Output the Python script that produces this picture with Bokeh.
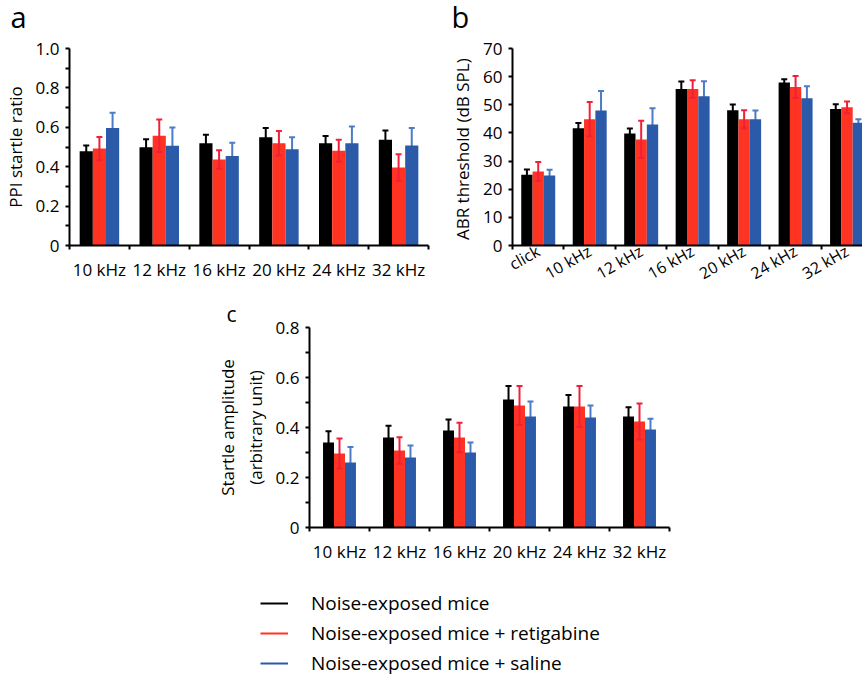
from bokeh.plotting import figure
from bokeh.models import (ColumnDataSource, Range1d, FixedTicker, Whisker, TeeHead,
                          Legend, LegendItem, Spacer, Label)
from bokeh.layouts import row, column
from bokeh.embed import file_html
from bokeh.resources import INLINE

FONT = "Open Sans"
COLORS = ["#000000", "#ff3322", "#2b5aa8"]
ERR_COLORS = ["#000000", "#f0203a", "#4d7bc6"]
ERR_LEVELS = ["underlay", "annotation", "underlay"]

series_names = ["Noise-exposed mice",
                "Noise-exposed mice + retigabine",
                "Noise-exposed mice + saline"]

# ---- panel a : PPI startle ratio ----
a_categories = ["10 kHz", "12 kHz", "16 kHz", "20 kHz", "24 kHz", "32 kHz"]
a_noise = [0.479, 0.499, 0.519, 0.549, 0.519, 0.537]
a_noise_err = [0.028, 0.040, 0.043, 0.047, 0.037, 0.047]
a_retig = [0.492, 0.557, 0.436, 0.519, 0.481, 0.396]
a_retig_err = [0.059, 0.082, 0.047, 0.062, 0.056, 0.067]
a_saline = [0.597, 0.506, 0.454, 0.488, 0.519, 0.507]
a_saline_err = [0.077, 0.093, 0.067, 0.061, 0.085, 0.089]
a_yticks = [0, 0.2, 0.4, 0.6, 0.8, 1.0]
a_yminor = [0.1, 0.3, 0.5, 0.7, 0.9]
a_ylabels = ["0", "0.2", "0.4", "0.6", "0.8", "1.0"]

# ---- panel b : ABR threshold ----
b_categories = ["click", "10 kHz", "12 kHz", "16 kHz", "20 kHz", "24 kHz", "32 kHz"]
b_noise = [25.1, 41.7, 39.8, 55.6, 48.1, 57.9, 48.5]
b_noise_err = [1.9, 1.8, 1.8, 2.7, 2.0, 1.2, 1.7]
b_retig = [26.3, 44.9, 37.7, 55.6, 44.9, 56.3, 49.1]
b_retig_err = [3.4, 6.1, 6.6, 3.1, 3.2, 3.9, 2.1]
b_saline = [24.9, 48.0, 43.0, 53.0, 44.9, 52.3, 43.6]
b_saline_err = [2.0, 6.9, 5.8, 5.4, 3.1, 4.3, 1.3]
b_yticks = [0, 10, 20, 30, 40, 50, 60, 70]
b_ylabels = ["0", "10", "20", "30", "40", "50", "60", "70"]

# ---- panel c : startle amplitude ----
c_categories = ["10 kHz", "12 kHz", "16 kHz", "20 kHz", "24 kHz", "32 kHz"]
c_noise = [0.340, 0.360, 0.388, 0.512, 0.484, 0.444]
c_noise_err = [0.045, 0.047, 0.044, 0.054, 0.046, 0.037]
c_retig = [0.296, 0.308, 0.360, 0.488, 0.484, 0.424]
c_retig_err = [0.060, 0.053, 0.059, 0.078, 0.082, 0.072]
c_saline = [0.260, 0.280, 0.300, 0.444, 0.440, 0.392]
c_saline_err = [0.062, 0.048, 0.040, 0.060, 0.048, 0.043]
c_yticks = [0, 0.2, 0.4, 0.6, 0.8]
c_yminor = [0.1, 0.3, 0.5, 0.7]
c_ylabels = ["0", "0.2", "0.4", "0.6", "0.8"]


def make_panel(categories, series, errors, yticks, yminor, ylabels, ylabel,
               bar_w, xend, width, height, borders, letter=None,
               letter_style=None, orientation="horizontal", xfont="17px",
               xstandoff=8):
    left, right, top, bottom = borders
    n = len(categories)
    p = figure(width=width, height=height, output_backend="svg",
               toolbar_location=None, x_range=Range1d(0, xend),
               y_range=Range1d(0, yticks[-1]),
               min_border_left=left, min_border_right=right,
               min_border_top=top, min_border_bottom=bottom)
    p.outline_line_color = None
    p.grid.visible = False
    p.background_fill_color = "white"
    p.border_fill_color = "white"

    for k, (vals, errs) in enumerate(zip(series, errors)):
        xs = [i + 0.5 + (k - 1) * bar_w for i in range(n)]
        src = ColumnDataSource(dict(
            x=xs, top=vals,
            upper=[v + e for v, e in zip(vals, errs)],
            lower=[v - e for v, e in zip(vals, errs)]))
        p.vbar(x="x", top="top", bottom=0, width=bar_w, source=src,
               fill_color=COLORS[k], line_color=None)
        ec = ERR_COLORS[k]
        w = Whisker(source=src, base="x", upper="upper", lower="lower",
                    dimension="height", line_color=ec, line_width=2,
                    level=ERR_LEVELS[k],
                    upper_head=TeeHead(size=6, line_color=ec, line_width=2),
                    lower_head=TeeHead(size=6, line_color=ec, line_width=2))
        p.add_layout(w)

    xa = p.xaxis[0]
    xa.ticker = FixedTicker(ticks=[i + 0.5 for i in range(n)],
                            minor_ticks=list(range(n + 1)))
    xa.major_label_overrides = {i + 0.5: c for i, c in enumerate(categories)}
    xa.major_tick_out = 0
    xa.major_tick_in = 0
    xa.minor_tick_out = 4
    xa.minor_tick_in = 0
    xa.major_label_standoff = xstandoff
    if orientation != "horizontal":
        xa.major_label_orientation = orientation

    ya = p.yaxis[0]
    ya.ticker = FixedTicker(ticks=yticks, minor_ticks=yminor)
    ya.major_label_overrides = {t: s for t, s in zip(yticks, ylabels)}
    ya.major_tick_out = 4
    ya.major_tick_in = 0
    ya.minor_tick_out = 4
    ya.minor_tick_in = 0
    ya.major_label_standoff = 6
    ya.axis_label = ylabel
    ya.axis_label_standoff = 6

    for ax in (xa, ya):
        ax.axis_line_width = 2
        ax.axis_line_color = "black"
        ax.major_tick_line_width = 2
        ax.minor_tick_line_width = 2
        ax.major_tick_line_color = "black"
        ax.minor_tick_line_color = "black"
        ax.major_label_text_font = FONT
        ax.major_label_text_font_size = "17px"
        ax.major_label_text_color = "black"
        ax.axis_label_text_font = FONT
        ax.axis_label_text_font_size = "17px"
        ax.axis_label_text_font_style = "normal"
        ax.axis_label_text_color = "black"
    xa.major_label_text_font_size = xfont

    if letter is not None:
        size, offset, standoff = letter_style
        p.title.text = letter
        p.title.align = "left"
        p.title.offset = offset
        p.title.standoff = standoff
        p.title.text_font = FONT
        p.title.text_font_size = size
        p.title.text_font_style = "normal"
        p.title.text_color = "black"
    return p


# header strip holding the panel letters a and b (1 data unit = 1 pixel)
HEADER_W, HEADER_H = 862, 36
ph = figure(width=HEADER_W, height=HEADER_H, output_backend="svg",
            toolbar_location=None,
            x_range=Range1d(0, HEADER_W), y_range=Range1d(0, HEADER_H),
            min_border_left=0, min_border_right=0, min_border_top=0,
            min_border_bottom=0)
ph.axis.visible = False
ph.grid.visible = False
ph.outline_line_color = None
for txt, lx, ly in (("a", 10, 0.5), ("b", 451, 0.5)):
    ph.add_layout(Label(x=lx, y=ly, text=txt, text_font=FONT,
                        text_font_size="29px", text_baseline="bottom",
                        text_color="black"))

pa = make_panel(a_categories, [a_noise, a_retig, a_saline],
                [a_noise_err, a_retig_err, a_saline_err],
                a_yticks, a_yminor, a_ylabels, "PPI startle ratio",
                0.22, len(a_categories), 448, 260, (68, 20, 12, 50))

pb = make_panel(b_categories, [b_noise, b_retig, b_saline],
                [b_noise_err, b_retig_err, b_saline_err],
                b_yticks, [], b_ylabels, "ABR threshold  (dB SPL)",
                0.22, 6.8, 414, 260, (64, 0, 12, 50),
                orientation=0.52, xfont="16px", xstandoff=0)

pc = make_panel(c_categories, [c_noise, c_retig, c_saline],
                [c_noise_err, c_retig_err, c_saline_err],
                c_yticks, c_yminor, c_ylabels,
                "Startle amplitude\n(arbitrary unit)",
                0.183, len(c_categories), 489, 294, (109, 20, 31, 63),
                letter="c", letter_style=("21px", -83, 0))

# legend figure
pl = figure(width=420, height=88, output_backend="svg", toolbar_location=None,
            x_range=Range1d(0, 1), y_range=Range1d(0, 1),
            min_border_left=0, min_border_right=0, min_border_top=0,
            min_border_bottom=0)
pl.axis.visible = False
pl.grid.visible = False
pl.outline_line_color = None
nan = float("nan")
items = []
for name, col in zip(series_names, COLORS):
    r = pl.line(x=[nan], y=[nan], line_color=col, line_width=2)
    items.append(LegendItem(label=name, renderers=[r]))
legend = Legend(items=items, location="top_left", orientation="vertical",
                border_line_color=None, background_fill_alpha=0,
                padding=0, margin=0, spacing=4, glyph_width=28,
                glyph_height=26, label_height=26, label_standoff=23,
                label_text_font=FONT, label_text_font_size="19px",
                label_text_color="black")
pl.add_layout(legend)

layout = column(ph,
                row(pa, pb),
                row(Spacer(width=200, height=294), pc),
                row(Spacer(width=260, height=88), pl))

with open("out.html", "w") as f:
    f.write(file_html(layout, INLINE, "chart"))
